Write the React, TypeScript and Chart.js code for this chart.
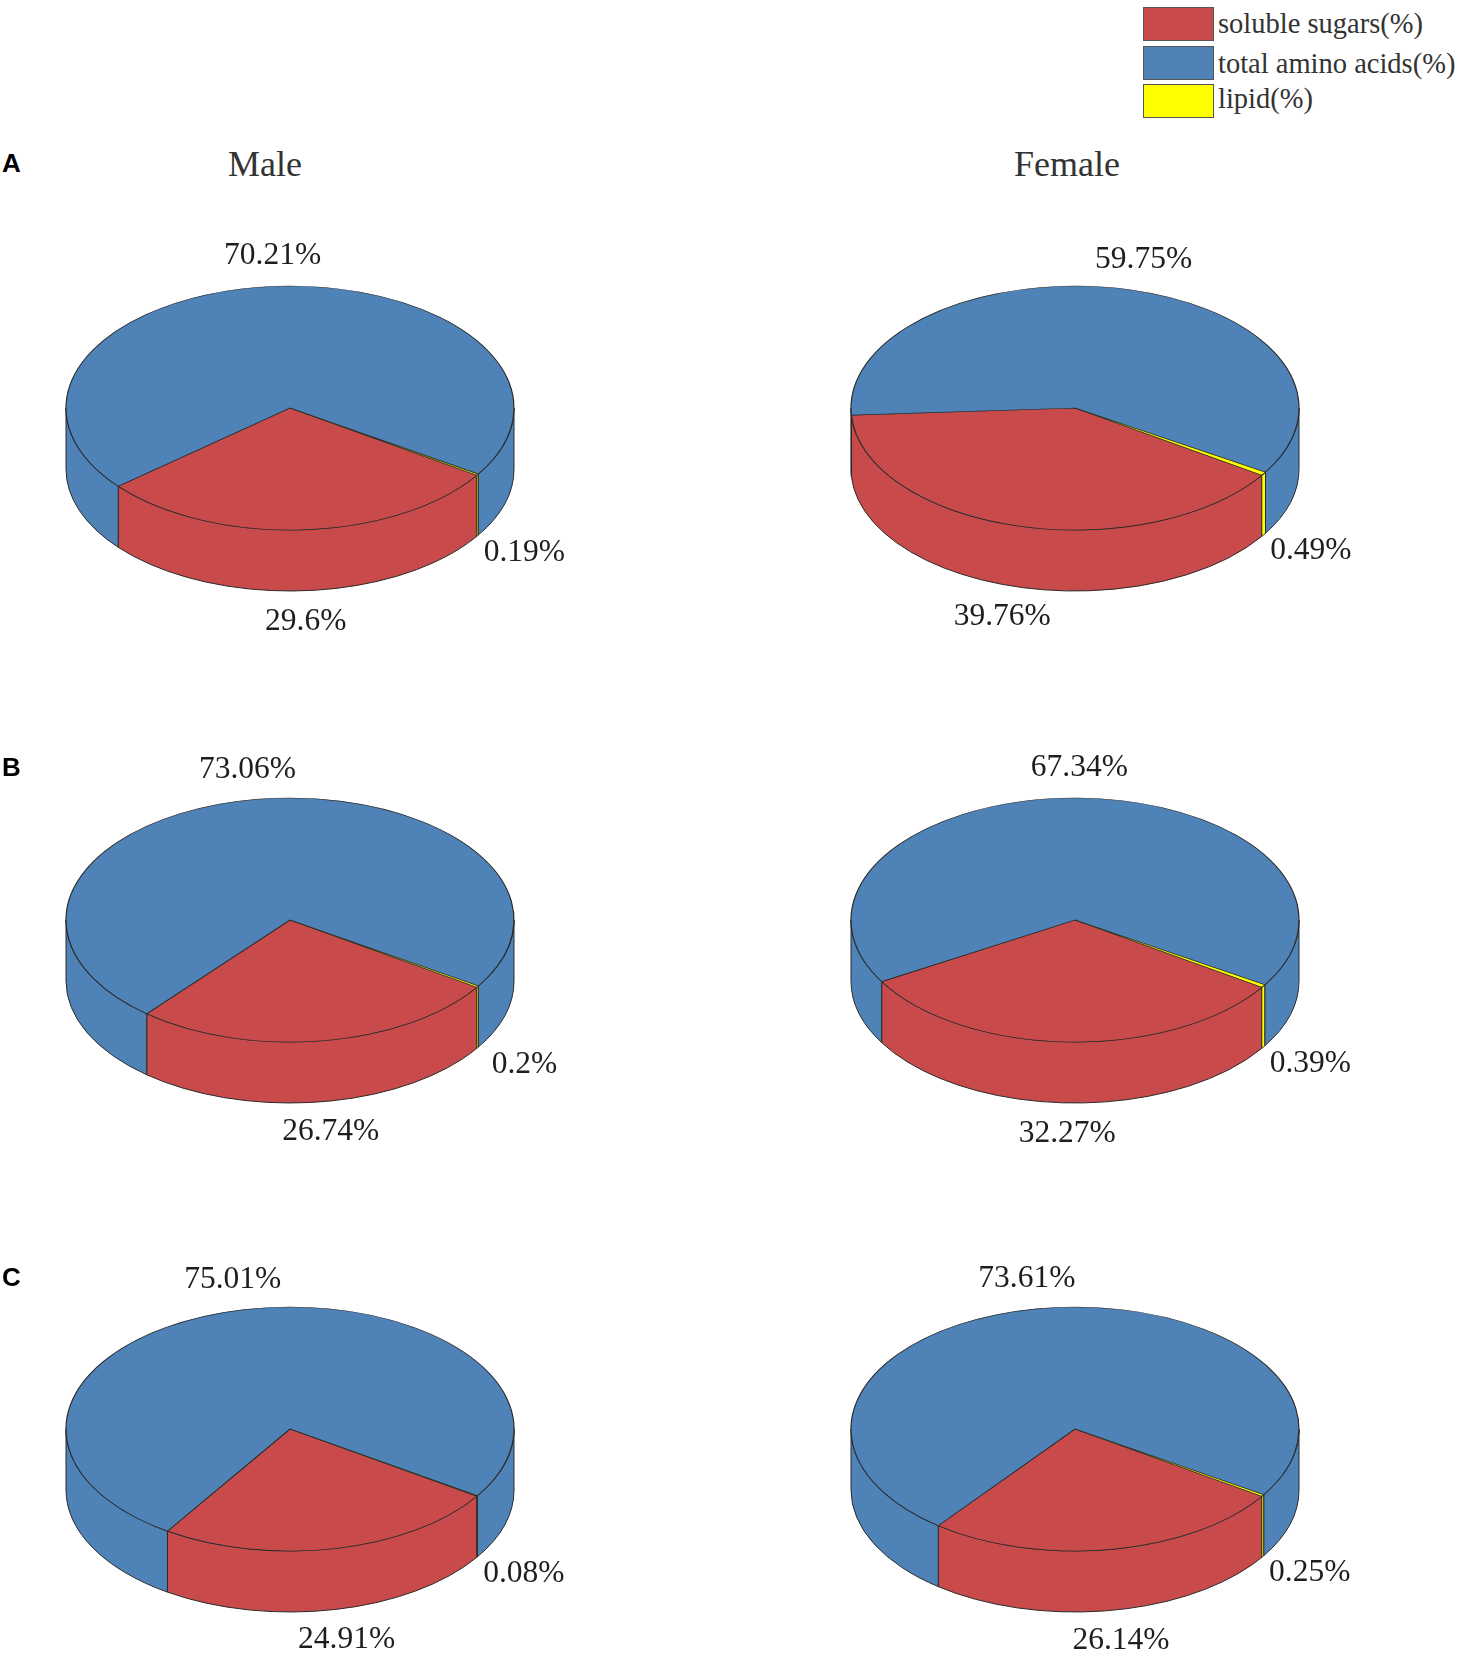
import React, { useEffect, useRef } from 'react';
import { Chart, registerables } from 'chart.js';

Chart.register(...registerables);

// ---- data ----
const categories = ['soluble sugars(%)', 'total amino acids(%)', 'lipid(%)'];
const sliceColors = ['#c84a4b', '#4f83b8', '#ffff00'];
const panelLetters = ['A', 'B', 'C'];
const sexLabels = ['Male', 'Female'];
// order: A-Male, A-Female, B-Male, B-Female, C-Male, C-Female
const sugarsValues = [29.6, 39.76, 26.74, 32.27, 24.91, 26.14];
const aminoValues = [70.21, 59.75, 73.06, 67.34, 75.01, 73.61];
const lipidValues = [0.19, 0.49, 0.2, 0.39, 0.08, 0.25];

// ---- layout ----
const COL_CX = [290, 1075];
const ROW_CY = [408, 920, 1429];
const RX = 224;
const RATIO = 122 / 224;
const DEPTH = 61;
const CW = 640;
const CH = 470;
const CCX = 320;
const CCY = 200;
const LABEL_FONT = '31.5px "Liberation Serif", "Times New Roman", serif';
const OUTLINE = '#2a2a2a';

const TWO_PI = Math.PI * 2;

const pie3d = {
  id: 'pie3d',
  beforeDatasetsDraw(chart: any) {
    const ctx = chart.ctx as CanvasRenderingContext2D;
    const meta = chart.getDatasetMeta(0);
    const arcs = meta.data as any[];
    const colors = chart.data.datasets[0].backgroundColor as string[];
    if (!arcs.length) return;
    const cx = arcs[0].x;
    const cy = arcs[0].y;
    // side walls (front half only)
    arcs.forEach((arc, i) => {
      const rx = arc.outerRadius;
      const ry = rx * RATIO;
      for (let k = -1; k <= 2; k++) {
        const lo = Math.max(arc.startAngle, k * TWO_PI);
        const hi = Math.min(arc.endAngle, k * TWO_PI + Math.PI);
        if (hi > lo) {
          ctx.save();
          ctx.beginPath();
          ctx.ellipse(cx, cy, rx, ry, 0, lo, hi, false);
          ctx.lineTo(cx + rx * Math.cos(hi), cy + ry * Math.sin(hi) + DEPTH);
          ctx.ellipse(cx, cy + DEPTH, rx, ry, 0, hi, lo, true);
          ctx.closePath();
          ctx.fillStyle = colors[i];
          ctx.fill();
          ctx.lineWidth = 1;
          ctx.strokeStyle = OUTLINE;
          ctx.lineJoin = 'round';
          ctx.stroke();
          ctx.restore();
        }
      }
    });
    // squash the top face into an ellipse
    ctx.save();
    ctx.translate(0, cy);
    ctx.scale(1, RATIO);
    ctx.translate(0, -cy);
  },
  afterDatasetsDraw(chart: any) {
    const ctx = chart.ctx as CanvasRenderingContext2D;
    ctx.restore();
    const meta = chart.getDatasetMeta(0);
    const arcs = meta.data as any[];
    const values = chart.data.datasets[0].data as number[];
    if (!arcs.length) return;
    const cx = arcs[0].x;
    const cy = arcs[0].y;
    ctx.save();
    ctx.font = LABEL_FONT;
    ctx.fillStyle = '#1e1e1e';
    ctx.textAlign = 'center';
    ctx.textBaseline = 'middle';
    arcs.forEach((arc, i) => {
      const m = (arc.startAngle + arc.endAngle) / 2;
      const rx = arc.outerRadius;
      const ry = rx * RATIO;
      const s = Math.sin(m);
      const x = cx + Math.cos(m) * rx * 1.25;
      const y = cy + s * ry * 1.25 + (s > 0 ? DEPTH : 0);
      ctx.fillText(String(values[i]) + '%', x, y);
    });
    ctx.restore();
  },
};

function Pie3D({ idx }: { idx: number }) {
  const ref = useRef<HTMLCanvasElement | null>(null);
  useEffect(() => {
    if (!ref.current) return;
    const chart = new Chart(ref.current, {
      type: 'pie',
      data: {
        labels: categories,
        datasets: [
          {
            data: [sugarsValues[idx], aminoValues[idx], lipidValues[idx]],
            backgroundColor: sliceColors,
            borderColor: OUTLINE,
            borderWidth: 1.2,
            radius: RX,
            clip: false,
          } as any,
        ],
      },
      options: {
        responsive: false,
        animation: false,
        events: [],
        rotation: 123.5,
        layout: { padding: { top: 0, left: 0, right: 0, bottom: CH - 2 * CCY } },
        plugins: {
          legend: { display: false },
          tooltip: { enabled: false },
          title: { display: false },
        },
      },
      plugins: [pie3d],
    });
    return () => chart.destroy();
  }, [idx]);
  const row = Math.floor(idx / 2);
  const col = idx % 2;
  return (
    <canvas
      ref={ref}
      width={CW}
      height={CH}
      style={{
        position: 'absolute',
        left: COL_CX[col] - CCX,
        top: ROW_CY[row] - CCY,
        width: CW,
        height: CH,
      }}
    />
  );
}

const serif = '"Liberation Serif", "Times New Roman", serif';

export default function App() {
  const legendTops = [7, 46, 84];
  const legendHeights = [34, 34, 34];
  const legendTextCenters = [24, 64, 99];
  const letterCenters = [164, 768, 1278];
  const titleCenters = [265, 1067];
  return (
    <div
      style={{
        position: 'absolute',
        left: 0,
        top: 0,
        width: 1465,
        height: 1657,
        background: '#ffffff',
        overflow: 'hidden',
      }}
    >
      {[0, 1, 2, 3, 4, 5].map((i) => (
        <Pie3D key={i} idx={i} />
      ))}
      {panelLetters.map((l, i) => (
        <div
          key={l}
          style={{
            position: 'absolute',
            left: 2,
            top: letterCenters[i] - 16,
            height: 32,
            lineHeight: '32px',
            font: 'bold 26px "Liberation Sans", Arial, sans-serif',
            color: '#000',
          }}
        >
          {l}
        </div>
      ))}
      {sexLabels.map((s, i) => (
        <div
          key={s}
          style={{
            position: 'absolute',
            left: titleCenters[i] - 120,
            width: 240,
            textAlign: 'center',
            top: 164 - 22,
            height: 44,
            lineHeight: '44px',
            fontFamily: serif,
            fontSize: 36,
            color: '#333',
          }}
        >
          {s}
        </div>
      ))}
      {categories.map((c, i) => (
        <React.Fragment key={c}>
          <div
            style={{
              position: 'absolute',
              left: 1143,
              top: legendTops[i],
              width: 71,
              height: legendHeights[i],
              boxSizing: 'border-box',
              background: sliceColors[i],
              border: '1.5px solid #555',
            }}
          />
          <div
            style={{
              position: 'absolute',
              left: 1218,
              top: legendTextCenters[i] - 17,
              height: 34,
              lineHeight: '34px',
              fontFamily: serif,
              fontSize: 28.5,
              color: '#333',
              whiteSpace: 'nowrap',
            }}
          >
            {c}
          </div>
        </React.Fragment>
      ))}
    </div>
  );
}
